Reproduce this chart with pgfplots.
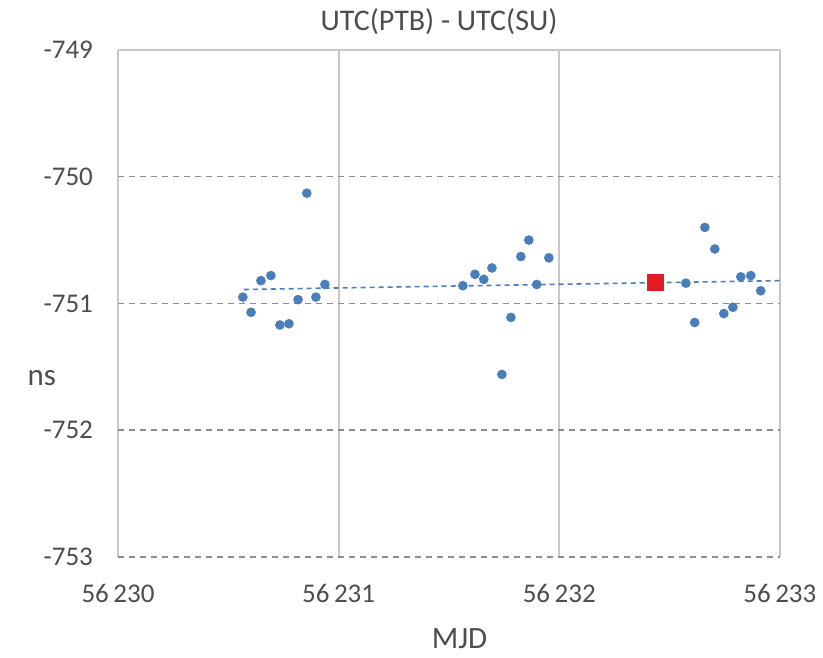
\documentclass[border=0pt]{standalone}
\usepackage{pgfplots}
\pgfplotsset{compat=1.18}
\usepackage{fontspec}
\setmainfont{Carlito}

\definecolor{ptblue}{HTML}{4A7EBB}
\definecolor{ptred}{HTML}{E31B23}
\definecolor{gridgray}{HTML}{C8C8C8}
\definecolor{dashgray}{HTML}{8C8C8C}
\definecolor{txtgray}{HTML}{4D4D4D}

\begin{document}
\begin{tikzpicture}
\begin{axis}[
    name=ax,
    scale only axis,
    width=331pt, height=253.5pt,
    xmin=56230, xmax=56233,
    ymin=-753, ymax=-749,
    scaled x ticks=false,
    xtick={56230,56231,56232,56233},
    xticklabels={56\,230,56\,231,56\,232,56\,233},
    ytick={-753,-752,-751,-750,-749},
    yticklabels={-753,-752,-751,-750,-749},
    major tick length=0pt,
    axis line style={draw=none},
    xmajorgrids, ymajorgrids,
    x grid style={solid, draw=gridgray, line width=1pt},
    y grid style={draw=dashgray, line width=0.7pt, dash pattern=on 3pt off 2.5pt},
    tick label style={font=\fontsize{13.5}{16}\selectfont, text=txtgray},
    xticklabel style={yshift=-10pt},
    yticklabel style={xshift=-9pt},
    title={UTC(PTB) - UTC(SU)},
    title style={font=\fontsize{15}{18}\selectfont, text=txtgray,
        at={(axis description cs:0.485,1.032)}, anchor=center},
    xlabel={MJD},
    xlabel style={font=\fontsize{15.5}{18}\selectfont, text=txtgray,
        at={(axis description cs:0.516,-0.162)}, anchor=center},
    ylabel={ns},
    ylabel style={font=\fontsize{15.5}{18}\selectfont, text=txtgray, rotate=-90,
        at={(axis description cs:-0.115,0.353)}, anchor=center},
]
% top border (solid)
\draw[gridgray, line width=1.2pt] (rel axis cs:0,1) -- (rel axis cs:1,1);
% trend line
\addplot[ptblue, line width=0.8pt, dash pattern=on 2.5pt off 2pt]
  coordinates {(56230.57,-750.89) (56233.0,-750.82)};
% measurements
\addplot[only marks, mark=*, mark size=2.2pt, color=ptblue]
  coordinates {
  (56230.566,-750.95) (56230.603,-751.07) (56230.648,-750.82) (56230.693,-750.78)
  (56230.734,-751.17) (56230.775,-751.16) (56230.816,-750.97) (56230.856,-750.13)
  (56230.897,-750.95) (56230.938,-750.85)
  (56231.563,-750.86) (56231.618,-750.77) (56231.658,-750.81) (56231.695,-750.72)
  (56231.740,-751.56) (56231.781,-751.11) (56231.826,-750.63) (56231.862,-750.50)
  (56231.898,-750.85) (56231.953,-750.64)
  (56232.574,-750.84) (56232.614,-751.15) (56232.660,-750.40) (56232.705,-750.57)
  (56232.746,-751.08) (56232.787,-751.03) (56232.823,-750.79) (56232.868,-750.78)
  (56232.913,-750.90)
  };
% mean value
\addplot[only marks, mark=square*, mark size=4pt, color=ptred]
  coordinates {(56232.438,-750.83)};
\end{axis}
\path ([shift={(-59pt,-50.5pt)}]ax.south west) rectangle ([shift={(20pt,25pt)}]ax.north east);
\end{tikzpicture}
\end{document}
